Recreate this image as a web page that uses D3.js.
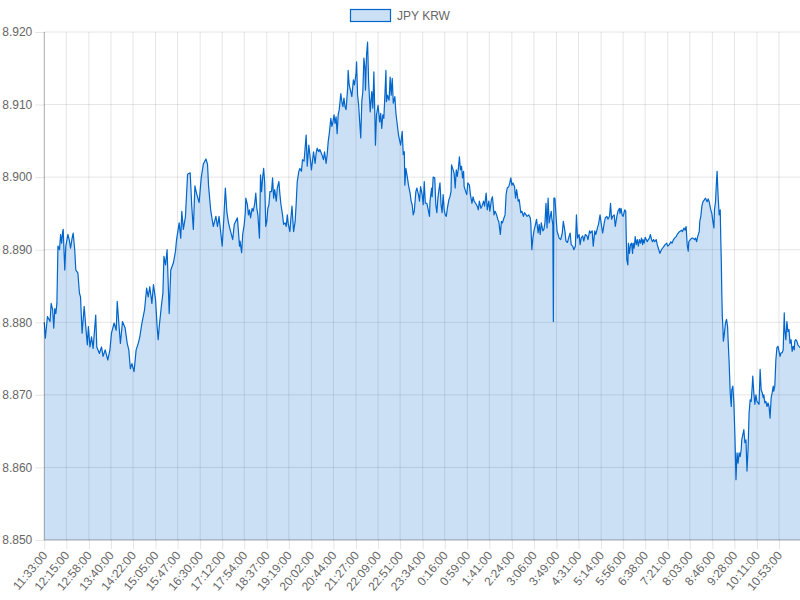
<!DOCTYPE html>
<html lang="en">
<head>
<meta charset="UTF-8">
<title>JPY KRW</title>
<script src="https://cdn.jsdelivr.net/npm/d3@7"></script>
<style>
  html, body { margin: 0; padding: 0; background: #fff; }
  svg { display: block; font-family: "Helvetica Neue", Helvetica, Arial, "Liberation Sans", sans-serif; }
  .tick text { fill: #666; font-size: 12px; }
  .tick line { stroke: rgba(0,0,0,0.1); }
  .domain { display: none; }
</style>
</head>
<body>
<script>
// minutes after 11:33:00 for each reading
var minutes = [
  0,2,6,11,13,16,18,20,22,24,
  26,29,31,33,35,36,39,41,45,48,
  50,53,55,58,60,64,67,69,72,76,
  79,82,84,87,90,93,98,100,105,109,
  112,116,121,125,128,133,137,139,142,145,
  149,154,158,161,164,167,171,175,179,182,
  186,191,195,198,201,205,208,212,215,217,
  219,223,226,228,231,234,238,241,246,250,
  252,257,260,262,265,269,273,278,281,284,
  287,290,295,299,303,308,311,313,317,322,
  327,330,333,335,339,342,345,348,351,354,
  359,362,368,372,
  373,376,378,381,383,384,387,389,391,393,
  396,398,401,403,405,407,410,412,414,416,
  418,420,422,424,426,428,430,433,435,437,
  439,442,444,447,449,451,454,456,459,461,
  463,465,468,470,472,475,478,480,482,485,
  487,490,492,495,497,499,501,504,506,509,
  511,513,516,518,520,523,525,529,532,534,
  537,539,541,543,546,548,550,552,554,556,
  558,560,562,565,567,569,571,573,575,578,
  579,581,584,586,589,591,594,595,597,599,
  601,603,605,607,609,611,612,614,616,618,
  619,621,624,626,628,630,631,633,636,639,
  641,643,645,647,649,651,652,654,657,659,
  661,663,665,668,670,672,675,677,679,682,
  684,686,687,689,692,694,697,699,701,703,
  705,708,710,713,715,717,720,722,724,726,
  729,731,734,
  735,738,739,741,744,746,748,750,752,754,
  756,758,760,762,764,766,768,771,773,775,
  776,779,781,783,785,787,789,791,793,795,
  797,799,800,803,805,807,810,812,815,817,
  819,822,825,827,829,832,834,837,839,842,
  844,847,849,852,854,857,859,862,864,866,
  869,871,873,876,878,880,882,885,887,889,
  891,893,896,898,900,903,905,908,910,913,
  915,918,920,923,926,927,929,931,933,936,
  938,941,943,945,947,950,952,954,956,958,
  960,962,964,966,967,969,970,971,973,975,
  977,979,981,984,987,989,992,994,997,999,
  1002,1004,1007,1009,1012,1014,1016,1019,1021,1023,
  1026,1028,1031,1034,1036,1039,1041,1044,1046,1049,
  1051,1054,1056,1059,1061,1064,1067,1069,1072,1074,
  1077,1079,1081,1083,1086,1088,1091,1093,1096,
  1097,1099,1101,1103,1106,1108,1109,1110,1112,1113,
  1115,1117,1119,1121,1122,1124,1126,1128,1130,1132,
  1134,1136,1138,1140,1141,1143,1145,1147,1149,1151,
  1153,1155,1157,1159,1161,1163,1166,1168,1171,1173,
  1176,1178,1181,1183,1186,1188,1191,1194,1196,1199,
  1201,1204,1206,1209,1211,1214,1216,1219,1221,1223,
  1225,1227,1228,1231,1234,1236,1239,1241,1243,1245,
  1248,1249,1251,1253,1255,1258,1260,1263,1265,1267,
  1270,1272,1274,1276,1277,1279,1281,1282,1284,1286,
  1288,1289,1290,1291,1292,1293,1294,1296,1298,1300,
  1302,1303,1305,1307,1309,1310,1312,1314,1316,1318,
  1320,1322,1324,1326,1328,1329,1331,1333,1335,1337,
  1339,1341,1343,1345,1347,1349,1350,1352,1354,1356,
  1358,1360,1362,1364,1366,1368,1370,1371,1373,1375,
  1377,1379,1381,1383,1385,1387,1389,1390,1392,1394,
  1396,1398,1400,1402,1404,1406,1408,1410,1411,1413,
  1415,1417,1419,1421,1423,1425,1427,1429,1430,1432,
  1434,1436,1438,1440
];

// JPY KRW rate at each reading
var rates = [
  8.8800,8.8778,8.8808,8.8801,8.8826,8.8817,8.8792,8.8819,8.8812,8.8826,
  8.8905,8.8900,8.8921,8.8909,8.8925,8.8928,8.8872,8.8905,8.8921,8.8912,
  8.8902,8.8916,8.8923,8.8900,8.8872,8.8868,8.8840,8.8835,8.8785,8.8822,
  8.8794,8.8769,8.8794,8.8766,8.8780,8.8764,8.8810,8.8766,8.8757,8.8766,
  8.8753,8.8762,8.8748,8.8762,8.8785,8.8799,8.8789,8.8829,8.8799,8.8771,
  8.8801,8.8792,8.8771,8.8762,8.8736,8.8743,8.8732,8.8762,8.8771,8.8780,
  8.8799,8.8817,8.8847,8.8835,8.8849,8.8826,8.8852,8.8831,8.8794,8.8776,
  8.8794,8.8822,8.8840,8.8891,8.8879,8.8900,8.8812,8.8872,8.8882,8.8898,
  8.8914,8.8937,8.8916,8.8953,8.8928,8.8946,8.9004,8.9006,8.8960,8.8928,
  8.8988,8.8978,8.8965,8.8999,8.9018,8.9025,8.9018,8.8988,8.8955,8.8932,
  8.8946,8.8932,8.8946,8.8932,8.8905,8.8942,8.8985,8.8951,8.8937,8.8928,
  8.8914,8.8935,8.8944,8.8905,
  8.8912,8.8896,8.8921,8.8935,8.8951,8.8971,8.8962,8.8948,8.8955,8.8944,
  8.8957,8.8953,8.8964,8.8978,8.8957,8.8948,8.8916,8.9003,8.8980,8.8999,
  8.9012,8.8992,8.8932,8.8939,8.8957,8.8962,8.8980,8.8980,8.8999,8.8971,
  8.8983,8.8967,8.8985,8.8994,8.8976,8.8962,8.8948,8.8935,8.8937,8.8932,
  8.8948,8.8935,8.8925,8.8944,8.8960,8.8925,8.8939,8.8964,8.8994,8.9008,
  8.9012,8.9008,8.9024,8.9022,8.9040,8.9058,8.9015,8.9044,8.9031,8.9010,
  8.9022,8.9035,8.9019,8.9033,8.9040,8.9035,8.9038,8.9031,8.9024,8.9035,
  8.9019,8.9031,8.9049,8.9060,8.9081,8.9070,8.9076,8.9086,8.9074,8.9083,
  8.9060,8.9086,8.9093,8.9115,8.9104,8.9097,8.9109,8.9097,8.9093,8.9122,
  8.9147,8.9127,8.9118,8.9111,8.9134,8.9127,8.9143,8.9159,8.9113,8.9099,
  8.9076,8.9054,8.9104,8.9118,8.9164,8.9150,8.9120,8.9168,8.9186,8.9131,
  8.9118,8.9090,8.9118,8.9095,8.9145,8.9081,8.9044,8.9086,8.9099,8.9076,
  8.9088,8.9067,8.9086,8.9081,8.9113,8.9147,8.9104,8.9113,8.9106,8.9138,
  8.9113,8.9136,8.9102,8.9111,8.9088,8.9076,8.9058,8.9051,8.9044,8.9063,
  8.9031,8.9035,8.8989,8.9012,8.8999,8.8989,8.8978,8.8967,8.8962,8.8948,
  8.8953,8.8980,8.8985,8.8976,8.8967,8.8987,8.8976,8.8962,8.8994,8.8964,
  8.8964,8.8957,8.8946,
  8.8967,8.8985,8.8973,8.9000,8.8999,8.8962,8.8951,8.8971,8.8983,8.8992,
  8.8962,8.8951,8.8976,8.8955,8.8948,8.8946,8.8957,8.8969,8.8973,8.8980,
  8.9017,8.9010,8.9005,8.8985,8.9010,8.9001,8.9012,8.9028,8.9010,8.9015,
  8.8999,8.9008,8.8987,8.8980,8.8976,8.8992,8.8989,8.8976,8.8964,8.8973,
  8.8967,8.8964,8.8960,8.8955,8.8967,8.8957,8.8960,8.8967,8.8960,8.8978,
  8.8955,8.8967,8.8953,8.8969,8.8973,8.8948,8.8953,8.8948,8.8942,8.8939,
  8.8921,8.8939,8.8937,8.8944,8.8948,8.8976,8.8985,8.8987,8.8992,8.8999,
  8.8989,8.8992,8.8987,8.8971,8.8983,8.8967,8.8969,8.8951,8.8953,8.8946,
  8.8951,8.8948,8.8946,8.8948,8.8944,8.8937,8.8900,8.8916,8.8926,8.8935,
  8.8942,8.8923,8.8935,8.8921,8.8937,8.8926,8.8928,8.8937,8.8964,8.8930,
  8.8971,8.8937,8.8946,8.8953,8.8944,8.8935,8.8801,8.8971,8.8971,8.8948,
  8.8926,8.8921,8.8916,8.8914,8.8923,8.8939,8.8926,8.8912,8.8910,8.8916,
  8.8923,8.8907,8.8905,8.8900,8.8905,8.8948,8.8916,8.8921,8.8907,8.8916,
  8.8919,8.8912,8.8921,8.8919,8.8914,8.8926,8.8923,8.8926,8.8905,8.8926,
  8.8921,8.8930,8.8935,8.8948,8.8937,8.8923,8.8937,8.8944,8.8946,8.8942,
  8.8946,8.8964,8.8942,8.8946,8.8948,8.8932,8.8946,8.8953,8.8957,
  8.8950,8.8957,8.8948,8.8946,8.8955,8.8953,8.8914,8.8886,8.8879,8.8909,
  8.8895,8.8907,8.8909,8.8895,8.8909,8.8902,8.8918,8.8907,8.8914,8.8905,
  8.8914,8.8909,8.8916,8.8907,8.8914,8.8909,8.8917,8.8914,8.8911,8.8914,
  8.8916,8.8921,8.8914,8.8911,8.8914,8.8911,8.8914,8.8907,8.8900,8.8895,
  8.8900,8.8902,8.8905,8.8907,8.8909,8.8905,8.8907,8.8911,8.8909,8.8914,
  8.8916,8.8918,8.8921,8.8924,8.8925,8.8927,8.8925,8.8930,8.8927,8.8932,
  8.8907,8.8898,8.8911,8.8914,8.8916,8.8916,8.8914,8.8916,8.8911,8.8918,
  8.8925,8.8939,8.8946,8.8960,8.8966,8.8969,8.8971,8.8966,8.8970,8.8966,
  8.8955,8.8950,8.8939,8.8930,8.8955,8.8966,8.8996,8.9008,8.8973,8.8948,
  8.8955,8.8916,8.8886,8.8840,8.8808,8.8794,8.8774,8.8785,8.8799,8.8804,
  8.8794,8.8776,8.8744,8.8703,8.8684,8.8707,8.8712,8.8689,8.8643,8.8583,
  8.8620,8.8606,8.8620,8.8615,8.8625,8.8638,8.8645,8.8652,8.8634,8.8638,
  8.8595,8.8625,8.8675,8.8693,8.8691,8.8712,8.8726,8.8703,8.8687,8.8700,
  8.8691,8.8689,8.8687,8.8735,8.8707,8.8703,8.8696,8.8700,8.8689,8.8691,
  8.8684,8.8689,8.8684,8.8668,8.8696,8.8703,8.8712,8.8705,8.8712,8.8748,
  8.8765,8.8767,8.8760,8.8753,8.8758,8.8758,8.8762,8.8813,8.8790,8.8776,
  8.8801,8.8787,8.8790,8.8771,8.8776,8.8760,8.8767,8.8762,8.8774,8.8776,
  8.8774,8.8769,8.8767,8.8765
];

var tickLabels = [
  "11:33:00","12:15:00","12:58:00","13:40:00","14:22:00","15:05:00","15:47:00",
  "16:30:00","17:12:00","17:54:00","18:37:00","19:19:00","20:02:00","20:44:00",
  "21:27:00","22:09:00","22:51:00","23:34:00","0:16:00","0:59:00","1:41:00",
  "2:24:00","3:06:00","3:49:00","4:31:00","5:14:00","5:56:00","6:38:00",
  "7:21:00","8:03:00","8:46:00","9:28:00","10:11:00","10:53:00"
];
var yTicks = [8.85, 8.86, 8.87, 8.88, 8.89, 8.90, 8.91, 8.92];
var seriesName = "JPY KRW";

var width = 800, height = 600;
var plotLeft = 44.3, plotRight = 800, plotTop = 32, plotBottom = 540;
var lineColor = "rgb(0,102,204)", fillColor = "rgba(0,102,204,0.2)";

var data = d3.zip(minutes, rates);

// tick positions as minutes after the first label
var startMin = 11 * 60 + 33;
var tickMinutes = tickLabels.map(function(t){
  var p = t.split(":").map(Number);
  return (p[0] * 60 + p[1] - startMin + 1440) % 1440;
});

var x = d3.scaleLinear().domain([0, 1440]).range([plotLeft, plotRight]);
var y = d3.scaleLinear().domain([8.85, 8.92]).range([plotBottom, plotTop]);

var svg = d3.select("body").append("svg")
            .attr("width", width)
            .attr("height", height);

// grid
svg.append("g").selectAll("line").data(tickMinutes).enter().append("line")
   .attr("x1", function(d){ return x(d); }).attr("x2", function(d){ return x(d); })
   .attr("y1", plotTop).attr("y2", plotBottom)
   .attr("stroke", "rgba(0,0,0,0.1)");
svg.append("g").selectAll("line").data(yTicks).enter().append("line")
   .attr("x1", plotLeft).attr("x2", plotRight)
   .attr("y1", function(d){ return y(d); }).attr("y2", function(d){ return y(d); })
   .attr("stroke", "rgba(0,0,0,0.1)");

// area + line
var area = d3.area()
             .x(function(d){ return x(d[0]); })
             .y0(y(8.85))
             .y1(function(d){ return y(d[1]); });
var line = d3.line()
             .x(function(d){ return x(d[0]); })
             .y(function(d){ return y(d[1]); });

svg.append("path").attr("d", area(data)).attr("fill", fillColor);
svg.append("path").attr("d", line(data))
   .attr("fill", "none")
   .attr("stroke", lineColor)
   .attr("stroke-width", 1.2)
   .attr("stroke-linejoin", "round");

// axes
svg.append("g")
   .attr("transform", "translate(" + plotLeft + ",0)")
   .call(d3.axisLeft(y).tickValues(yTicks).tickFormat(d3.format(".3f")).tickSize(9).tickPadding(3));

var xAxis = svg.append("g")
   .attr("transform", "translate(0," + plotBottom + ")")
   .call(d3.axisBottom(x).tickValues(tickMinutes)
           .tickFormat(function(d){ return tickLabels[tickMinutes.indexOf(d)]; })
           .tickSize(9));
xAxis.selectAll("text")
     .attr("x", 0).attr("y", 0).attr("dy", "0.35em")
     .attr("transform", "translate(0,13) rotate(-50)")
     .style("text-anchor", "end");

svg.append("line").attr("x1", plotLeft).attr("x2", plotLeft).attr("y1", plotTop).attr("y2", plotBottom)
   .attr("stroke", "rgba(0,0,0,0.25)");
svg.append("line").attr("x1", plotLeft).attr("x2", plotRight).attr("y1", plotBottom).attr("y2", plotBottom)
   .attr("stroke", "rgba(0,0,0,0.25)");

// legend
var legend = svg.append("g");
legend.append("rect")
      .attr("x", 350.5).attr("y", 9.5).attr("width", 40).attr("height", 12)
      .attr("fill", fillColor).attr("stroke", lineColor).attr("stroke-width", 1.2);
legend.append("text")
      .attr("x", 397).attr("y", 19.5)
      .attr("fill", "#666").style("font-size", "12px")
      .text(seriesName);
</script>
</body>
</html>
